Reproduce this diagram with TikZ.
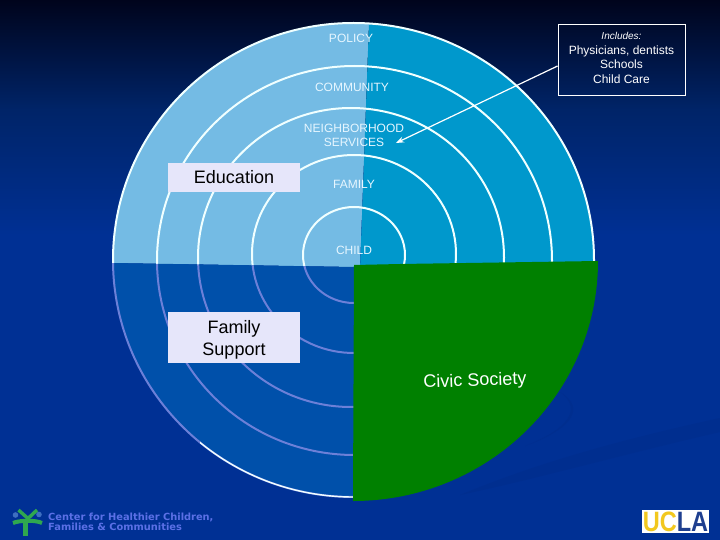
\documentclass[tikz,border=0pt]{standalone}
\usepackage{fontspec}
\setmainfont{Liberation Sans}
\newfontfamily\logofont{DejaVu Sans}
\usetikzlibrary{arrows.meta}
\definecolor{bgtop}{HTML}{00041C}
\definecolor{bgmid}{HTML}{002468}
\definecolor{bgbase}{HTML}{003094}
\definecolor{bgdark}{HTML}{002E8F}
\definecolor{lightblue}{HTML}{74BBE4}
\definecolor{midblue}{HTML}{0098CC}
\definecolor{deepblue}{HTML}{0050AA}
\definecolor{lilac}{HTML}{6C80D8}
\definecolor{ringwhite}{HTML}{F0FFFF}
\definecolor{civicgreen}{HTML}{008000}
\definecolor{boxfill}{HTML}{E6E6FA}
\definecolor{labeltext}{HTML}{E6F6FF}
\definecolor{footertext}{HTML}{5B70E6}
\definecolor{logogreen}{HTML}{2FA84F}
\definecolor{logoblue}{HTML}{3E6FC0}
\definecolor{uclagold}{HTML}{F2C81E}
\definecolor{uclanavy}{HTML}{1F3F8F}
\tikzset{
  ringline/.style={line width=2pt},
  ringlabel/.style={text=labeltext,font=\fontsize{12}{14}\selectfont,align=center,inner sep=0pt},
  topicbox/.style={fill=boxfill,text=black,font=\fontsize{18}{22}\selectfont,align=center,minimum width=132pt,inner sep=0pt},
  notebox/.style={draw=white,line width=0.8pt,text=white,align=center,minimum width=127pt,minimum height=71pt,inner sep=0pt,font=\fontsize{12}{14.4}\selectfont},
}
\begin{document}
\begin{tikzpicture}[x=1pt,y=-1pt]
\useasboundingbox (0,0) rectangle (720,540);
% background
\fill[bgbase] (0,0) rectangle (720,540);
\shade[top color=bgtop,bottom color=bgmid] (0,0) rectangle (720,110);
\shade[top color=bgmid,bottom color=bgbase] (0,110) rectangle (720,235);
\fill[bgdark] (720,418) .. controls (620,440) and (540,462) .. (460,495) .. controls (540,478) and (620,455) .. (720,432) -- cycle;
\fill[bgdark] (560,392) .. controls (578,405) and (578,425) .. (525,446) .. controls (565,432) and (590,410) .. (560,392) -- cycle;
% quadrant fills
\begin{scope}
  \clip (353.5,260) ellipse [x radius=240.5,y radius=237];
  \fill[lightblue] (100,10) -- (369.5,10) -- (360,267) -- (354,267) -- (113,263) -- (100,263) -- cycle;
  \fill[midblue] (369.5,10) -- (610,10) -- (610,270) -- (360,270) -- cycle;
  \fill[deepblue] (100,263) -- (113,263) -- (354,267) -- (354,510) -- (100,510) -- cycle;
\end{scope}
% rings, upper half white
\begin{scope}
  \clip (100,10) -- (610,10) -- (610,267) -- (354,267) -- (100,263) -- cycle;
  \foreach \cx/\cy/\rx/\ry in {354/255/51/48, 354/254/102/99, 351/257.5/153/149.5, 354.5/260.5/197.5/194.5, 353.5/260/240.5/237}
    \draw[ringwhite,ringline] (\cx,\cy) ellipse [x radius=\rx,y radius=\ry];
\end{scope}
% rings, lower half lilac
\begin{scope}
  \clip (100,263) -- (354,267) -- (354,510) -- (100,510) -- cycle;
  \foreach \cx/\cy/\rx/\ry in {354/255/51/48, 354/254/102/99, 351/257.5/153/149.5, 354.5/260.5/197.5/194.5, 353.5/260/240.5/237}
    \draw[lilac,ringline] (\cx,\cy) ellipse [x radius=\rx,y radius=\ry];
  \clip (200,435) rectangle (354,510);
  \draw[ringwhite,line width=1.4pt] (353.5,260) ellipse [x radius=240.5,y radius=237];
\end{scope}
% green quarter
\fill[civicgreen] (354,265) -- (400,264) -- (598,261) arc[start angle=0,end angle=90,x radius=245,y radius=240] -- cycle;
% labels
\node[ringlabel] (policy) at (351,38.5) {POLICY};
\node[ringlabel] (community) at (352,87) {COMMUNITY};
\node[ringlabel] (neighborhood) at (354,135) {NEIGHBORHOOD\\SERVICES};
\node[ringlabel] (family) at (354,184.5) {FAMILY};
\node[ringlabel] (child) at (354,250.5) {CHILD};
\node[topicbox,minimum height=29pt] (education) at (234,177.5) {Education};
\node[topicbox,minimum height=51pt,text depth=0pt] (support) at (234,337.5) {Family\\Support};
\node[text=white,font=\fontsize{18}{22}\selectfont,rotate=2,inner sep=0pt] (civic) at (475,381.5) {Civic Society};
% note and arrow
\node[notebox] (includes) at (621.5,59.5) {{\fontsize{10}{14.4}\selectfont\itshape Includes:}\\Physicians, dentists\\Schools\\Child Care\\[-11pt]\mbox{}};
\coordinate (arrowend) at (396,143);
\draw[white,line width=1.2pt,-{Stealth[length=8pt,width=6pt]}] ([yshift=-6.5pt]includes.west) -- (arrowend);
% footer logo
\draw[logogreen,line width=3.4pt] (18.5,510) -- (28,518.5) -- (37,510);
\draw[logogreen,line width=4pt] (13,523) .. controls (20,520) and (36,520) .. (42,523);
\draw[logogreen,line width=5pt] (25,519) -- (25,536);
\fill[logoblue] (15.5,515) circle (2.8) (39,514.5) circle (2.8);
\node[text=footertext,font=\logofont\bfseries\fontsize{9.85}{10.4}\selectfont,align=left,anchor=north west,inner sep=0pt] (center) at (48,512.5) {Center for Healthier Children,\\Families \& Communities};
% UCLA logo
\node[fill=white,minimum width=66.5pt,minimum height=23pt,inner sep=0pt] (ucla) at (675.5,521.5) {\scalebox{.84}[1]{\fontsize{28}{28}\selectfont\bfseries\textcolor{uclagold}{UC}\textcolor{uclanavy}{LA}}};
\end{tikzpicture}
\end{document}
